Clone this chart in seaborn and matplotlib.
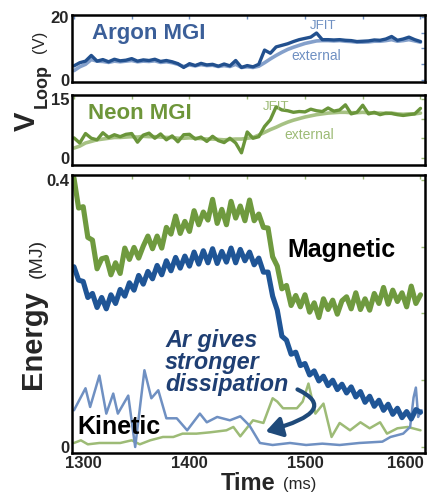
import numpy as np
import matplotlib
matplotlib.use("Agg")
import matplotlib.pyplot as plt
import matplotlib.transforms as mtransforms
import seaborn as sns

sns.set_theme(style="white")
plt.rcParams["font.family"] = ["Liberation Sans", "DejaVu Sans"]

# ---- data ----
# loop voltage panels, sampled every 5 ms
t_loop = np.arange(1300, 1601, 5)
argon_jfit = [4.5, 5.5, 6.0, 7.8, 6.0, 6.5, 5.8, 6.6, 6.1, 6.3,
              6.8, 6.0, 6.4, 6.2, 6.6, 5.9, 6.2, 5.8, 5.2, 4.0,
              5.2, 4.6, 5.3, 4.8, 5.0, 4.4, 5.1, 4.5, 6.2, 4.0,
              4.6, 4.2, 5.0, 9.5, 8.5, 10.5, 11.0, 11.5, 12.2, 12.8,
              13.2, 13.6, 14.9, 12.8, 12.8, 12.7, 12.8, 12.6, 12.5, 12.2,
              12.3, 12.4, 12.7, 12.6, 13.0, 13.8, 12.6, 13.0, 13.6, 12.8,
              12.2]
argon_ext = [3.0, 4.2, 5.0, 6.5, 6.0, 5.9, 5.6, 6.0, 5.8, 6.0,
             6.2, 5.8, 6.0, 5.9, 6.1, 5.6, 5.8, 5.5, 5.0, 4.3,
             4.8, 4.5, 4.9, 4.6, 4.7, 4.3, 4.6, 4.3, 5.0, 4.0,
             4.2, 4.0, 4.4, 5.5, 6.7, 7.8, 8.8, 9.7, 10.4, 11.0,
             11.6, 12.0, 12.4, 12.5, 12.5, 12.4, 12.5, 12.3, 12.2, 12.0,
             12.0, 12.1, 12.3, 12.3, 12.5, 12.8, 12.3, 12.5, 12.8, 12.4,
             12.0]
neon_jfit = [5.1, 3.8, 6.2, 5.0, 4.6, 6.4, 5.2, 5.9, 5.4, 6.0,
             6.2, 4.0, 5.8, 6.3, 5.0, 6.1, 4.6, 5.6, 4.1, 5.9,
             6.0, 4.8, 5.3, 4.2, 5.5, 4.4, 3.9, 5.0, 3.8, 1.3,
             6.6, 5.0, 5.4, 8.0, 9.7, 13.0, 12.2, 12.0, 11.6, 11.8,
             11.7, 12.4, 12.0, 11.8, 12.7, 11.9, 12.2, 13.5, 11.2, 11.6,
             13.4, 11.2, 11.6, 11.0, 11.4, 11.3, 11.0, 10.8, 11.0, 11.2,
             12.6]
neon_ext = [2.5, 3.0, 3.8, 4.2, 4.6, 4.8, 5.0, 5.2, 5.2, 5.3,
            5.4, 5.3, 5.5, 5.4, 5.4, 5.3, 5.2, 5.2, 5.0, 5.0,
            5.1, 5.0, 4.9, 4.8, 4.8, 4.7, 4.6, 4.7, 4.8, 4.8,
            5.0, 5.2, 5.8, 6.5, 7.2, 7.8, 8.5, 9.1, 9.6, 10.0,
            10.4, 10.7, 11.0, 11.2, 11.4, 11.5, 11.6, 11.6, 11.5, 11.5,
            11.6, 11.5, 11.4, 11.4, 11.3, 11.4, 11.2, 11.1, 11.2, 11.2,
            11.4]

# magnetic energy, sampled every 4 ms
t_mag = np.arange(1300, 1601, 4)
mag_neon = [0.403, 0.358, 0.360, 0.314, 0.310, 0.267, 0.282, 0.284, 0.258, 0.276,
            0.260, 0.298, 0.281, 0.299, 0.283, 0.301, 0.316, 0.297, 0.316, 0.298,
            0.329, 0.319, 0.346, 0.320, 0.338, 0.323, 0.354, 0.333, 0.352, 0.340,
            0.371, 0.335, 0.356, 0.333, 0.368, 0.343, 0.361, 0.339, 0.370, 0.339,
            0.349, 0.329, 0.328, 0.285, 0.271, 0.237, 0.242, 0.212, 0.227, 0.210,
            0.228, 0.202, 0.216, 0.194, 0.222, 0.206, 0.220, 0.199, 0.219, 0.225,
            0.207, 0.231, 0.206, 0.222, 0.205, 0.230, 0.215, 0.239, 0.214, 0.235,
            0.218, 0.231, 0.210, 0.241, 0.215, 0.228]
mag_argon = [0.270, 0.250, 0.248, 0.224, 0.230, 0.209, 0.224, 0.207, 0.228, 0.215,
             0.236, 0.226, 0.246, 0.235, 0.257, 0.244, 0.263, 0.252, 0.272, 0.258,
             0.279, 0.264, 0.284, 0.268, 0.286, 0.271, 0.292, 0.274, 0.294, 0.276,
             0.297, 0.275, 0.293, 0.277, 0.298, 0.276, 0.296, 0.279, 0.292, 0.273,
             0.283, 0.262, 0.262, 0.226, 0.205, 0.166, 0.160, 0.139, 0.142, 0.122,
             0.125, 0.108, 0.114, 0.099, 0.106, 0.092, 0.100, 0.086, 0.094, 0.081,
             0.090, 0.075, 0.083, 0.067, 0.076, 0.061, 0.070, 0.055, 0.064, 0.049,
             0.058, 0.044, 0.053, 0.042, 0.056, 0.052]

# kinetic energy
kin_ar_t = [1300, 1310, 1314, 1322, 1328, 1334, 1338, 1347, 1353, 1361,
            1367, 1373, 1380, 1389, 1398, 1409, 1415, 1424, 1435, 1444,
            1452, 1461, 1472, 1487, 1501, 1515, 1530, 1547, 1567, 1574,
            1585, 1591, 1594, 1596, 1598, 1601]
kin_ar = [0.055, 0.088, 0.060, 0.107, 0.050, 0.080, 0.050, 0.077, 0.000, 0.115,
          0.073, 0.085, 0.043, 0.043, 0.025, 0.050, 0.037, 0.045, 0.040, 0.046,
          0.032, 0.006, 0.003, 0.006, 0.003, 0.005, 0.003, 0.006, 0.008, 0.015,
          0.020, 0.030, 0.074, 0.089, 0.045, 0.055]
kin_ne_t = [1300, 1306, 1312, 1322, 1340, 1350, 1357, 1366, 1377, 1386,
            1394, 1406, 1418, 1432, 1438, 1444, 1455, 1464, 1472, 1476,
            1481, 1493, 1498, 1503, 1509, 1516, 1523, 1530, 1539, 1548,
            1556, 1565, 1571, 1580, 1589, 1600]
kin_ne = [0.006, 0.010, 0.004, 0.006, 0.006, 0.010, 0.004, 0.010, 0.015, 0.015,
          0.020, 0.020, 0.022, 0.025, 0.030, 0.016, 0.040, 0.036, 0.073, 0.068,
          0.058, 0.058, 0.068, 0.095, 0.050, 0.065, 0.015, 0.036, 0.025, 0.037,
          0.028, 0.037, 0.020, 0.028, 0.030, 0.025]

x_ticks = np.arange(1300, 1601, 50)
x_labels = ["1300", "", "1400", "", "1500", "", "1600"]

# colours
ar_dark = "#22508e"
ar_light = "#6f90c2"
ne_dark = "#6a953a"
ne_light = "#9dbb76"
navy = "#1f3f73"

W, H = 438, 495
fig = plt.figure(figsize=(W / 100, H / 100), dpi=100)
fig.patch.set_facecolor("white")


def box(l, t, r, b):
    return [l / W, 1 - b / H, (r - l) / W, (b - t) / H]


ax_ar = fig.add_axes(box(72, 15, 425, 82))
ax_ne = fig.add_axes(box(72, 95, 425, 165))
ax_en = fig.add_axes(box(72, 175, 425, 453))


def style(ax, tick_color, yticks, ylabels, show_x):
    ax.set_facecolor("white")
    for sp in ax.spines.values():
        sp.set_color("black")
        sp.set_linewidth(1.8)
    ax.set_xlim(1298.3, 1603.9)
    ax.set_xticks(x_ticks)
    ax.set_xticklabels(x_labels if show_x else [""] * len(x_ticks),
                       fontweight="bold", fontsize=12)
    ax.set_yticks(yticks)
    ax.set_yticklabels(ylabels, fontweight="bold", fontsize=12)
    ax.tick_params(direction="in", length=3, width=1, color=tick_color,
                   top=True, right=True, pad=2)
    ax.set_xlabel("")
    ax.set_ylabel("")


# Argon loop voltage
sns.lineplot(x=t_loop, y=argon_ext, ax=ax_ar, color=ar_light, linewidth=2.6,
             alpha=0.85, sort=False, estimator=None)
sns.lineplot(x=t_loop, y=argon_jfit, ax=ax_ar, color=ar_dark, linewidth=2.4,
             sort=False, estimator=None)
ax_ar.set_ylim(-0.6, 20.6)
style(ax_ar, ar_light, [0, 5, 10, 15, 20], ["0", "", "", "", "20"], False)
ax_ar.text(1315.5, 14.9, "Argon MGI", color="#3b5f99", fontsize=16,
           fontweight="bold", ha="left", va="center")
ax_ar.text(1515.5, 17.1, "JFIT", color=ar_light, fontsize=9.5, ha="center", va="center")
ax_ar.text(1510, 7.6, "external", color=ar_light, fontsize=10, ha="center", va="center")

# Neon loop voltage
sns.lineplot(x=t_loop, y=neon_ext, ax=ax_ne, color=ne_light, linewidth=2.6,
             alpha=0.9, sort=False, estimator=None)
sns.lineplot(x=t_loop, y=neon_jfit, ax=ax_ne, color=ne_dark, linewidth=2.4,
             sort=False, estimator=None)
ax_ne.set_ylim(-1.8, 16.0)
style(ax_ne, ne_light, [0, 5, 10, 15], ["0", "", "", "15"], False)
ax_ne.text(1312, 11.2, "Neon MGI", color="#6e963a", fontsize=16,
           fontweight="bold", ha="left", va="center")
ax_ne.text(1475, 13.0, "JFIT", color=ne_light, fontsize=9.5, ha="center", va="center")
ax_ne.text(1503.5, 5.9, "external", color=ne_light, fontsize=10, ha="center", va="center")

# Energy panel
sns.lineplot(x=kin_ne_t, y=kin_ne, ax=ax_en, color=ne_light, linewidth=1.8,
             sort=False, estimator=None)
sns.lineplot(x=kin_ar_t, y=kin_ar, ax=ax_en, color=ar_light, linewidth=1.8,
             sort=False, estimator=None)
sns.lineplot(x=t_mag, y=mag_neon, ax=ax_en, color="#6f9a3f", linewidth=3.7,
             sort=False, estimator=None)
sns.lineplot(x=t_mag, y=mag_argon, ax=ax_en, color="#1f5596", linewidth=3.7,
             sort=False, estimator=None)
ax_en.set_ylim(-0.009, 0.4075)
style(ax_en, ne_light, [0, 0.1, 0.2, 0.3, 0.4], ["0", "", "", "", "0.4"], True)

# end labels of the time axis sit inside the frame, as in the original
xl = ax_en.get_xticklabels()
xl[0].set_transform(xl[0].get_transform()
                    + mtransforms.ScaledTranslation(0.09, 0, fig.dpi_scale_trans))
xl[-1].set_transform(xl[-1].get_transform()
                     + mtransforms.ScaledTranslation(-0.15, 0, fig.dpi_scale_trans))

ax_en.text(1484.4, 0.295, "Magnetic", fontsize=18, fontweight="bold",
           color="black", ha="left", va="center")
ax_en.text(1302.6, 0.030, "Kinetic", fontsize=18, fontweight="bold",
           color="black", ha="left", va="center")
ax_en.text(1378.8, 0.127, "Ar gives\nstronger\ndissipation", fontsize=16.8,
           fontweight="bold", fontstyle="italic", color=navy,
           ha="left", va="center", linespacing=0.95)
ax_en.annotate("", xy=(1463.6, 0.022), xytext=(1491.3, 0.088),
               arrowprops=dict(arrowstyle="-|>,head_length=0.8,head_width=0.5",
                               connectionstyle="angle3,angleA=-24,angleB=15",
                               color="#1f4a7a", lw=3))

# axis titles, built from pieces like the original
def ftext(px, py, s, **kw):
    fig.text(px / W, 1 - py / H, s, ha="center", va="center", **kw)


ftext(27, 121, "V", fontsize=21, fontweight="bold", rotation=90)
ftext(42, 86, "Loop", fontsize=13, fontweight="bold", rotation=90)
ftext(39, 42, "(V)", fontsize=12, rotation=90)
ftext(33, 340, "Energy", fontsize=21, fontweight="bold", rotation=90)
ftext(37, 258, "(MJ)", fontsize=14, rotation=90)
ftext(248, 483, "Time", fontsize=17, fontweight="bold")
ftext(300, 485, "(ms)", fontsize=12)

plt.savefig("out.png", dpi=100)
plt.close()
